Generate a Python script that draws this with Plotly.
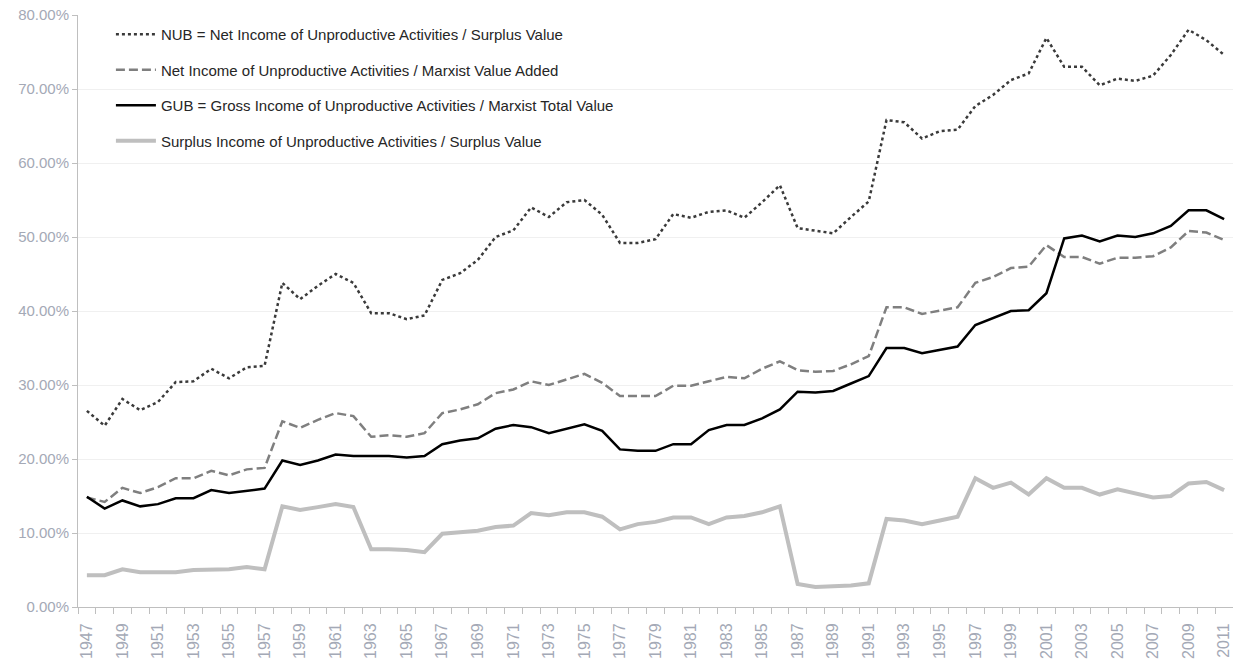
import plotly.graph_objects as go

years = list(range(1947, 2012))

nub = [26.5, 24.5, 28.1, 26.6, 27.7, 30.4, 30.5, 32.2, 30.9, 32.4, 32.6,
       43.8, 41.6, 43.4, 45.0, 43.8, 39.7, 39.7, 38.9, 39.4,
       44.2, 45.1, 46.9, 50.0, 50.9, 54.0, 52.7, 54.7, 55.0, 53.0,
       49.2, 49.2, 49.7, 53.1, 52.6, 53.4, 53.6, 52.6, 54.7, 57.0,
       51.2, 50.9, 50.5, 52.7, 54.8, 65.8, 65.5, 63.3, 64.3, 64.5,
       67.7, 69.2, 71.2, 72.1, 76.9, 73.0, 73.0, 70.5, 71.4, 71.1,
       71.8, 74.6, 78.0, 76.6, 74.6]

net_va = [14.8, 14.2, 16.1, 15.4, 16.2, 17.4, 17.4, 18.4, 17.8, 18.6, 18.8,
          25.1, 24.2, 25.3, 26.2, 25.8, 23.0, 23.2, 23.0, 23.5,
          26.2, 26.7, 27.4, 28.9, 29.4, 30.5, 30.0, 30.7, 31.5, 30.3,
          28.5, 28.5, 28.5, 29.9, 29.9, 30.5, 31.1, 30.9, 32.2, 33.2,
          32.0, 31.8, 31.9, 32.8, 33.9, 40.5, 40.5, 39.6, 40.1, 40.5,
          43.8, 44.6, 45.8, 46.0, 48.9, 47.3, 47.3, 46.4, 47.2, 47.2,
          47.4, 48.6, 50.8, 50.6, 49.6]

gub = [14.9, 13.3, 14.4, 13.6, 13.9, 14.7, 14.7, 15.8, 15.4, 15.7, 16.0,
       19.8, 19.2, 19.8, 20.6, 20.4, 20.4, 20.4, 20.2, 20.4,
       22.0, 22.5, 22.8, 24.1, 24.6, 24.3, 23.5, 24.1, 24.7, 23.8,
       21.3, 21.1, 21.1, 22.0, 22.0, 23.9, 24.6, 24.6, 25.5, 26.7,
       29.1, 29.0, 29.2, 30.2, 31.2, 35.0, 35.0, 34.3, 34.8, 35.2,
       38.1, 39.0, 40.0, 40.1, 42.4, 49.8, 50.2, 49.4, 50.2, 50.0,
       50.5, 51.5, 53.6, 53.6, 52.4]

surplus = [4.3, 4.3, 5.1, 4.7, 4.7, 4.7, 5.0, 5.1, 5.1, 5.4, 5.1,
           13.6, 13.1, 13.5, 13.9, 13.5, 7.8, 7.8, 7.7, 7.4,
           9.9, 10.1, 10.3, 10.8, 11.0, 12.7, 12.4, 12.8, 12.8, 12.2,
           10.5, 11.2, 11.5, 12.1, 12.1, 11.2, 12.1, 12.3, 12.8, 13.6,
           3.1, 2.7, 2.8, 2.9, 3.2, 11.9, 11.7, 11.2, 11.7, 12.2,
           17.4, 16.1, 16.8, 15.2, 17.4, 16.1, 16.1, 15.2, 15.9, 15.3,
           14.8, 15.0, 16.7, 16.9, 15.8]

names = [
    "NUB = Net Income of Unproductive Activities / Surplus Value",
    "Net Income of Unproductive Activities / Marxist Value Added",
    "GUB = Gross Income of Unproductive Activities / Marxist Total Value",
    "Surplus Income of Unproductive Activities / Surplus Value",
]

y_ticks = [0, 0.1, 0.2, 0.3, 0.4, 0.5, 0.6, 0.7, 0.8]
x_label_years = list(range(1947, 2012, 2))

series = [nub, net_va, gub, surplus]
styles = [
    dict(color="#3a3a3a", width=2.5, dash="dot"),
    dict(color="#7f7f7f", width=2.5, dash="9px,4px"),
    dict(color="#000000", width=2.5, dash="solid"),
    dict(color="#bfbfbf", width=4, dash="solid"),
]

FONT = "Liberation Sans, Arial, sans-serif"
TICK_COLOR = "#a4a9b6"

fig = go.Figure()
for i, (s, nm, st) in enumerate(zip(series, names, styles)):
    fig.add_trace(go.Scatter(
        x=years, y=[v / 100 for v in s], mode="lines", name=nm,
        line=st, legendgroup=str(i),
    ))

fig.update_layout(
    width=1233, height=665,
    margin=dict(l=78, r=0, t=15, b=58, autoexpand=False),
    paper_bgcolor="white", plot_bgcolor="white",
    font=dict(family=FONT, size=15, color="#262626"),
    showlegend=True,
    legend=dict(
        x=0.0285, y=0.995, xanchor="left", yanchor="top",
        bgcolor="rgba(0,0,0,0)", font=dict(family=FONT, size=15, color="#262626"),
        tracegroupgap=13, itemwidth=40,
    ),
    xaxis=dict(
        range=[1946.5, 2011.5], automargin=False,
        tickmode="array", tickvals=x_label_years,
        ticktext=[str(y) for y in x_label_years],
        tickangle=-90, ticks="", ticklabelstandoff=9,
        ticklabeloverflow="allow",
        tickfont=dict(family=FONT, size=16, color=TICK_COLOR),
        showgrid=False, zeroline=False,
        showline=True, linecolor="#bfbfbf", linewidth=1,
        minor=dict(tickmode="array", tickvals=[1946.5 + k for k in range(66)],
                   ticks="outside", ticklen=6, tickcolor="#bfbfbf", showgrid=False),
    ),
    yaxis=dict(
        range=[0, 0.8], tickvals=y_ticks, tickformat=".2%", automargin=False,
        ticklabeloverflow="allow",
        tickfont=dict(family=FONT, size=15, color=TICK_COLOR),
        showgrid=True, gridcolor="#f0f0f0", gridwidth=1,
        zeroline=False, showline=True, linecolor="#bfbfbf", linewidth=1,
        ticks="outside", ticklen=5, tickcolor="#bfbfbf",
    ),
)

fig.write_html("out.html", config={"displayModeBar": False},
               post_script="document.body.style.margin='0';")
